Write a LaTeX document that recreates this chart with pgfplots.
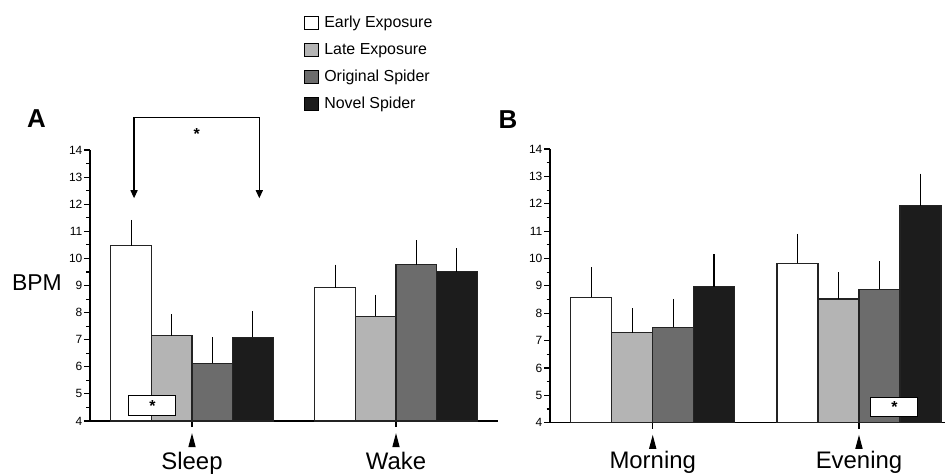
\documentclass[border=0pt]{standalone}
\usepackage{pgfplots}
\usepackage{pgfplotstable}
\pgfplotsset{compat=1.18}
\usepackage{fontspec}
\setmainfont{Liberation Sans}
\usetikzlibrary{arrows.meta}

\definecolor{cLight}{RGB}{180,180,180}
\definecolor{cMid}{RGB}{108,108,108}
\definecolor{cDark}{RGB}{28,28,28}
\definecolor{cEdge}{RGB}{35,35,35}

\newcommand{\tri}{\tikz\fill[black] (0,0)--(7.5bp,0)--(3.75bp,14bp)--cycle;}

\pgfplotstableread{
x early eE late lE orig oE novel nE
0 10.47 0.85 7.14 0.69 6.13 0.86 7.09 0.85
1 8.92 0.75 7.87 0.68 9.76 0.80 9.51 0.76
}\tableA

\pgfplotstableread{
x early eE late lE orig oE novel nE
0 8.58 1.00 7.28 0.80 7.48 0.94 8.97 1.09
1 9.82 0.98 8.52 0.88 8.88 0.92 11.92 1.08
}\tableB

\pgfplotsset{
  panel/.style={
    scale only axis, anchor=south west, clip=false,
    ymin=4, ymax=14, ytick={4,...,14}, minor y tick num=1,
    axis x line=bottom, axis y line=left,
    axis line style={-, line width=1.3bp, black},
    tick align=outside, major tick length=6bp, minor tick length=3.5bp,
    tick style={line width=1.1bp, black},
    xtick={0,1},
    /pgf/number format/assume math mode=true,
    yticklabel={\pgfmathprintnumber[assume math mode=true]{\tick}},
    yticklabel style={font=\fontsize{12}{12}\selectfont, inner sep=1.5bp},
    xticklabel style={font=\fontsize{24}{24}\selectfont, align=center, inner sep=0pt, yshift=-6bp},
    ybar,
    every axis plot/.append style={draw=cEdge, line width=1.1bp, bar width=0.1987},
    error bars/y dir=plus, error bars/y explicit,
    error bars/error bar style={line width=1.4bp, black},
    error bars/error mark options={line width=1.4bp, black, mark size=2.8bp},
  },
  p1/.style={fill=white, bar shift=-0.298},
  p2/.style={fill=cLight, bar shift=-0.0993},
  p3/.style={fill=cMid, bar shift=0.0993},
  p4/.style={fill=cDark, bar shift=0.298},
}

\begin{document}
\begin{tikzpicture}
\path[use as bounding box] (0,0) rectangle (945bp,-474bp);

\begin{axis}[panel, at={(90bp,-421bp)}, width=408bp, height=271bp,
  xmin=-0.5, xmax=1.5,
  xticklabels={{\tri\\[-1.5bp]Sleep},{\tri\\[-1.5bp]Wake}},
  legend style={draw=none, fill=none, at={(axis description cs:0.517,1.513)}, anchor=north west,
    font=\fontsize{16}{16}\selectfont, row sep=8bp, column sep=3bp, legend cell align=left,
    nodes={inner sep=2bp, text height=12bp, text depth=3bp}},
  legend image code/.code={\draw[#1, line width=1.2bp, draw=black] (0bp,-6.5bp) rectangle (14bp,6.5bp);},
]
\addplot[p1] table[x=x, y=early, y error=eE] {\tableA};
\addplot[p2] table[x=x, y=late, y error=lE] {\tableA};
\addplot[p3] table[x=x, y=orig, y error=oE] {\tableA};
\addplot[p4] table[x=x, y=novel, y error=nE] {\tableA};
\legend{Early Exposure, Late Exposure, Original Spider, Novel Spider}
\node[draw=black, fill=white, line width=1bp, minimum width=47bp, minimum height=20bp, inner sep=0pt]
  at (axis cs:-0.194,4.565) {\raisebox{-0.35em}{\fontsize{16}{16}\selectfont\textbf{*}}};
\draw[line width=1.2bp] (axis cs:-0.284,15.21) -- (axis cs:0.330,15.21);
\draw[line width=1.2bp, -{Triangle[width=7bp,length=8bp]}] (axis cs:-0.284,15.21) -- (axis cs:-0.284,12.22);
\draw[line width=1.2bp, -{Triangle[width=7bp,length=8bp]}] (axis cs:0.330,15.21) -- (axis cs:0.330,12.22);
\node at (axis cs:0.023,14.6) {\raisebox{-0.35em}{\fontsize{16}{16}\selectfont\textbf{*}}};
\end{axis}

\begin{axis}[panel, at={(550bp,-422.7bp)}, width=395bp, height=273.7bp,
  xmin=-0.498, xmax=1.417,
  xticklabels={{\tri\\[-4bp]Morning},{\tri\\[-4bp]Evening}},
]
\addplot[p1] table[x=x, y=early, y error=eE] {\tableB};
\addplot[p2] table[x=x, y=late, y error=lE] {\tableB};
\addplot[p3] table[x=x, y=orig, y error=oE] {\tableB};
\addplot[p4] table[x=x, y=novel, y error=nE] {\tableB};
\node[draw=black, fill=white, line width=1bp, minimum width=47bp, minimum height=19bp, inner sep=0pt]
  at (axis cs:1.172,4.585) {\raisebox{-0.35em}{\fontsize{16}{16}\selectfont\textbf{*}}};
\end{axis}

\node[font=\fontsize{26}{26}\selectfont\bfseries] at (36.5bp,-119bp) {A};
\node[font=\fontsize{26}{26}\selectfont\bfseries] at (508bp,-120bp) {B};
\node[font=\fontsize{23}{23}\selectfont] at (37bp,-283bp) {BPM};
\end{tikzpicture}
\end{document}
